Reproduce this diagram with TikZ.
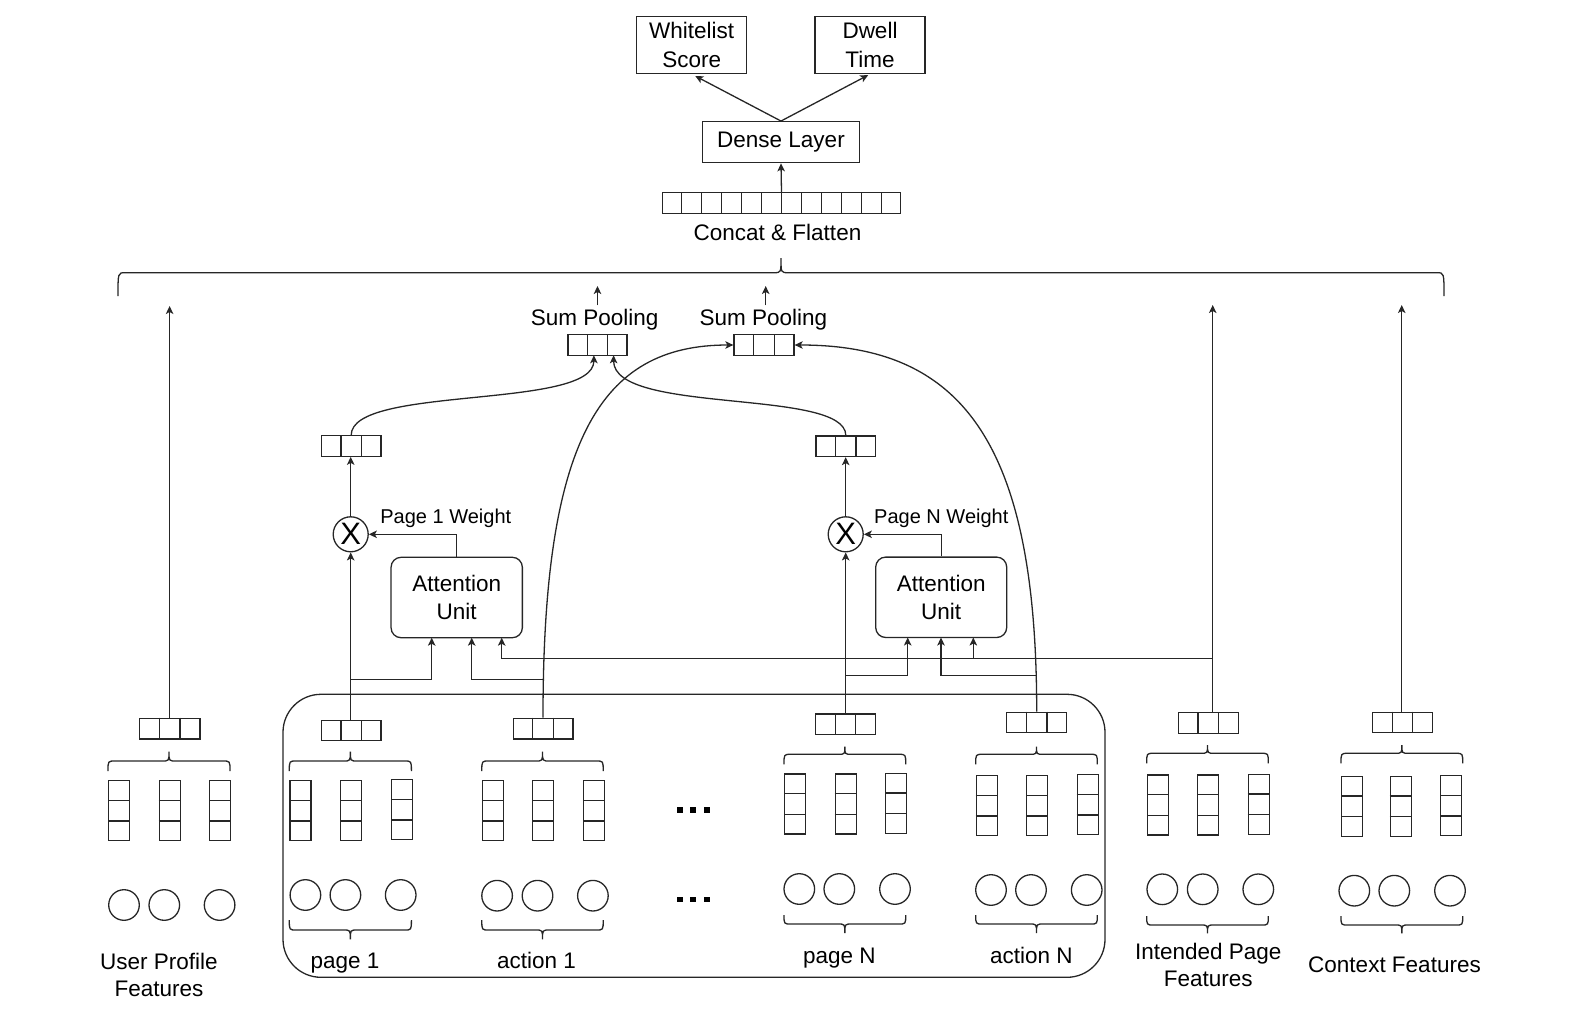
\documentclass[tikz,border=0pt]{standalone}
\usepackage{fontspec}
\setmainfont{Liberation Sans}
\usetikzlibrary{arrows.meta,calc}
\tikzset{
 ln/.style={line width=1.3pt, draw=black!85},
 arr/.style={ln, -{Stealth[length=8pt,width=7.5pt,inset=2pt]}},
 cellbox/.style={draw=black!85, line width=1.3pt, inner sep=0pt, rectangle},
 cellline/.style={draw=black!85, line width=1.3pt},
 feat/.style={circle, draw=black!85, line width=1.3pt, minimum size=30.6pt, inner sep=0pt},
 lab/.style={font=\fontsize{22.5}{27.5}\selectfont, inner sep=0pt, align=center},
 wlab/.style={font=\fontsize{20}{24}\selectfont, inner sep=0pt},
 outbox/.style={draw=black!85, line width=1.3pt, inner sep=0pt, align=center, font=\fontsize{22.5}{29}\selectfont},
 attbox/.style={outbox, rounded corners=10pt, font=\fontsize{22.5}{27.5}\selectfont},
 mulnode/.style={circle, draw=black!85, line width=1.3pt, minimum size=35pt, inner sep=0pt, font=\fontsize{31}{32}\selectfont},
}
\newcommand\hcells[6]{%
  \node[cellbox, minimum width=#4pt, minimum height=#5pt] (#1) at (#2,#3) {};
  \pgfmathtruncatemacro\hcn{#6-1}%
  \foreach \ci in {1,...,\hcn}{\draw[cellline] ($(#1.north west)!\ci/#6!(#1.north east)$) -- ($(#1.south west)!\ci/#6!(#1.south east)$);}%
}
\newcommand\vcells[3]{%
  \node[cellbox, minimum width=21pt, minimum height=60pt, anchor=north west] (#1) at (#2,#3) {};
  \foreach \ci in {1,2}{\draw[cellline] ($(#1.north west)!\ci/3!(#1.south west)$) -- ($(#1.north east)!\ci/3!(#1.south east)$);}%
}
\newcommand\brc[5]{%
  \pgfmathsetmacro\brm{(#1+#2)/2}%
  \draw[ln] (#1,#3) .. controls (#1,#4) .. ({#1+7},#4) -- ({\brm-7},#4) .. controls (\brm,#4) .. (\brm,#5) .. controls (\brm,#4) .. ({\brm+7},#4) -- ({#2-7},#4) .. controls (#2,#4) .. (#2,#3);%
}
\begin{document}
\begin{tikzpicture}[x=1pt,y=-1pt]
\useasboundingbox (0,0) rectangle (1590,1022);

% ---------- top ----------
\node[outbox, minimum width=110pt, minimum height=57pt] (ws) at (691.7,45) {Whitelist\\Score};
\node[outbox, minimum width=110pt, minimum height=57pt] (dt) at (870,45) {Dwell\\Time};
\node[outbox, minimum width=157pt, minimum height=41pt] (dense) at (781,142.2) {Dense Layer};
\hcells{concat}{781.5}{203}{238.4}{20.6}{12}
\node[lab, anchor=base] (concatlab) at (777.5,240.7) {Concat \& Flatten};
\draw[arr] (concat.north) -- (dense.south);
\draw[arr, shorten >=4pt] (dense.north) -- (ws.south);
\draw[arr, shorten >=2pt] (dense.north) -- (dt.south);

\brc{118}{1444}{296}{272.7}{258}

% ---------- sum pooling ----------
\hcells{sp1}{597.4}{345}{59}{20.5}{3}
\hcells{sp2}{764}{345}{60}{20.5}{3}
\node[lab, anchor=base] (sp1lab) at (594.7,325) {Sum Pooling};
\node[lab, anchor=base] (sp2lab) at (763.3,325) {Sum Pooling};
\coordinate (sp1out) at (597.5,286);
\coordinate (sp2out) at (765.7,286);
\draw[arr, shorten <=3pt] (sp1out |- sp1lab.north) -- (sp1out);
\draw[arr, shorten <=3pt] (sp2out |- sp2lab.north) -- (sp2out);
\coordinate (sp1in1) at (593.9,355.3);
\coordinate (sp1in2) at (613.6,355.3);

% ---------- attention part ----------
\node[mulnode] (x1) at (350.7,534.3) {X};
\node[mulnode] (xN) at (845.7,534.3) {X};
\hcells{e1}{351.2}{446}{59.6}{20.4}{3}
\hcells{eN}{845.8}{446.3}{59.6}{20.4}{3}
\node[attbox, minimum width=131.3pt, minimum height=80.4pt] (att1) at (456.7,597.5) {Attention\\Unit};
\node[attbox, minimum width=131pt, minimum height=80.4pt] (attN) at (941.2,597.3) {Attention\\Unit};
\node[wlab, anchor=base] (w1) at (445.8,523.3) {Page 1 Weight};
\node[wlab, anchor=base] (wN) at (941.3,523.3) {Page N Weight};

\draw[arr] (x1.north) -- (x1.north |- e1.south);
\draw[arr] (xN.north) -- (xN.north |- eN.south);
\draw[arr] (att1.north) |- (x1.east);
\draw[arr] (attN.north) |- (xN.east);
\draw[arr] (e1.north) .. controls (351.2,385) and (593.9,410) .. (sp1in1);
\draw[arr] (eN.north) .. controls (845.8,388) and (613.6,415) .. (sp1in2);

% ---------- sequence box ----------
\node[draw=black!85, line width=1.3pt, rounded corners=38pt, minimum width=822pt, minimum height=283pt, inner sep=0pt] (seq) at (694,835.8) {};

% ---------- user profile ----------
\hcells{u}{169.6}{728.7}{60.7}{20.7}{3}
\brc{108}{230}{771}{761}{751.7}
\vcells{u1}{108}{780}
\vcells{u2}{158.6}{780}
\vcells{u3}{209}{780}
\node[feat] (uc1) at (124,905) {};
\node[feat] (uc2) at (164.3,905) {};
\node[feat] (uc3) at (219.6,905) {};
\node[lab] (ulab) at (159,974.7) {User Profile\\Features};

% ---------- page 1 ----------
\hcells{p1}{351.2}{730.7}{59.6}{20}{3}
\brc{289.3}{411.4}{771}{761}{751.7}
\vcells{p1a}{289.3}{780}
\vcells{p1b}{340}{780}
\vcells{p1c}{391}{779}
\node[feat] (p1c1) at (305.4,895) {};
\node[feat] (p1c2) at (345.4,895) {};
\node[feat] (p1c3) at (400.7,895) {};
\brc{289.3}{411.4}{920}{930}{939.3}
\node[lab, anchor=base] (p1lab) at (345,968.3) {page 1};

% ---------- action 1 ----------
\hcells{a1s}{543}{728.7}{59.7}{20.7}{3}
\brc{481.8}{603.2}{771}{761}{751.7}
\vcells{a1a}{481.8}{780}
\vcells{a1b}{532.1}{780}
\vcells{a1c}{582.9}{780}
\node[feat] (a1c1) at (497.1,895.7) {};
\node[feat] (a1c2) at (537.5,895.7) {};
\node[feat] (a1c3) at (592.9,895.7) {};
\brc{481.8}{603.2}{920}{930}{939.3}
\node[lab, anchor=base] (a1lab) at (536.4,968.3) {action 1};

% ---------- dots ----------
\fill (676.7,807.3) rectangle ++(6,5.4);
\fill (690.3,807.3) rectangle ++(6,5.4);
\fill (704,807.3) rectangle ++(6,5.4);
\fill (676.7,896.5) rectangle ++(6,5.4);
\fill (690.3,896.5) rectangle ++(6,5.4);
\fill (704,896.5) rectangle ++(6,5.4);

% ---------- page N ----------
\hcells{pN}{845.5}{724.2}{59.6}{20.3}{3}
\brc{784}{905.7}{764.3}{754.3}{746.7}
\vcells{pNa}{784}{773.3}
\vcells{pNb}{834.7}{773.3}
\vcells{pNc}{885}{772.7}
\node[feat] (pNc1) at (799.3,889) {};
\node[feat] (pNc2) at (839.3,889) {};
\node[feat] (pNc3) at (895,889) {};
\brc{784}{905.7}{915}{924}{933}
\node[lab, anchor=base] (pNlab) at (839.3,963.3) {page N};

% ---------- action N ----------
\hcells{aN}{1036.7}{722.5}{60}{20.4}{3}
\brc{975.7}{1097.3}{764.3}{754.3}{746.7}
\vcells{aNa}{975.7}{775}
\vcells{aNb}{1026}{775}
\vcells{aNc}{1076.7}{774}
\node[feat] (aNc1) at (991,890) {};
\node[feat] (aNc2) at (1031,890) {};
\node[feat] (aNc3) at (1086.7,890) {};
\brc{975.7}{1097.3}{915}{924}{933}
\node[lab, anchor=base] (aNlab) at (1031.3,963.3) {action N};

% ---------- intended page ----------
\hcells{ip}{1208.3}{723}{60}{20.6}{3}
\brc{1146.7}{1268.3}{763.3}{753.3}{745}
\vcells{ipa}{1147}{774.3}
\vcells{ipb}{1197}{774.3}
\vcells{ipc}{1247.7}{773.7}
\node[feat] (ipc1) at (1162.3,889.3) {};
\node[feat] (ipc2) at (1202.7,889.3) {};
\node[feat] (ipc3) at (1258.3,889.3) {};
\brc{1146.7}{1268.3}{916}{925}{933.3}
\node[lab] (iplab) at (1208.3,964.8) {Intended Page\\Features};

% ---------- context ----------
\hcells{cx}{1402.5}{722.5}{60.4}{20.4}{3}
\brc{1341}{1462.7}{763.3}{753.3}{745}
\vcells{cxa}{1341}{775.7}
\vcells{cxb}{1389.5}{775.7}
\vcells{cxc}{1440}{775}
\node[feat] (cxc1) at (1354.3,890.7) {};
\node[feat] (cxc2) at (1394.3,890.7) {};
\node[feat] (cxc3) at (1450,890.7) {};
\brc{1341}{1462.7}{916}{925}{933.3}
\node[lab, anchor=base] (cxlab) at (1394.5,972.7) {Context Features};

% ---------- long verticals ----------
\coordinate (uout) at (169.6,306);
\coordinate (ipout) at (1212.7,305);
\coordinate (cxout) at (1401.7,305);
\draw[arr] (u.north) -- (uout);
\draw[arr] (ipout |- ip.north) -- (ipout);
\draw[arr] (cxout |- cx.north) -- (cxout);

% ---------- page / action to attention ----------
\draw[arr] (x1.south |- p1.north) -- (x1.south);
\draw[arr] (xN.south |- pN.north) -- (xN.south);
\draw[arr] (a1s.north) .. controls (542.9,440) and (600,345) .. (sp2.west);
\draw[arr] (aN.north) .. controls (1036.7,440) and (960,345) .. (sp2.east);

\coordinate (p1br) at (350.7,679.3);
\coordinate (a1br) at (543,679.3);
\coordinate (pNbr) at (845.7,675.7);
\coordinate (aNbr) at (1036.7,675.7);
\coordinate (ipbr) at (1212.7,658.3);
\coordinate (a1i1) at (431.7,637.7);
\coordinate (a1i2) at (471.7,637.7);
\coordinate (a1i3) at (501.7,637.7);
\coordinate (aNi1) at (907.7,637.5);
\coordinate (aNi2) at (941,637.5);
\coordinate (aNi3) at (973.3,637.5);
\draw[arr] (p1br) -| (a1i1);
\draw[arr] (a1br) -| (a1i2);
\draw[arr] (ipbr) -| (a1i3);
\draw[arr] (pNbr) -| (aNi1);
\draw[arr] (aNbr) -| (aNi2);
\draw[arr] (aNi3 |- ipbr) -- (aNi3);
\end{tikzpicture}
\end{document}
